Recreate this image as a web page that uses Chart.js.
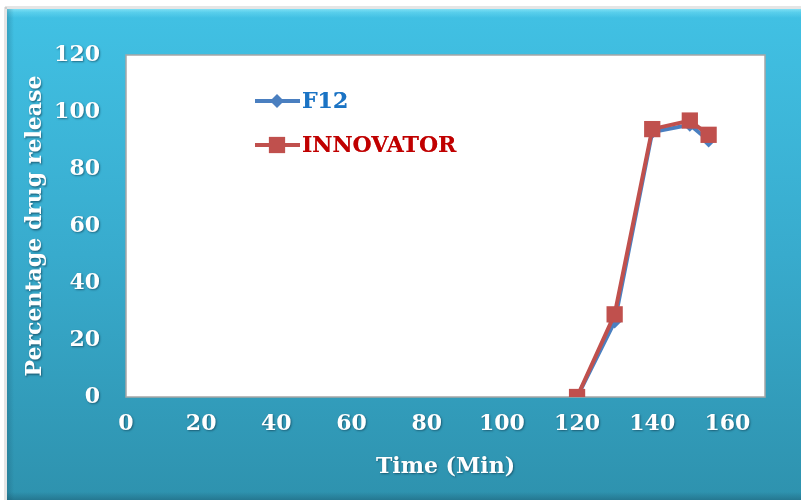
<!DOCTYPE html>
<html>
<head>
<meta charset="utf-8">
<script src="https://cdn.jsdelivr.net/npm/chart.js@4/dist/chart.umd.min.js"></script>
<style>
  html, body { margin: 0; padding: 0; background: #ffffff; }
  #wrap { width: 801px; height: 500px; }
</style>
</head>
<body>
<div id="wrap"><canvas id="c" width="801" height="500"></canvas></div>
<script>
// Dissolution profile: time points (min) and % drug released
const timePoints = [120, 130, 140, 150, 155];
const f12Release = [0, 26.5, 93, 95.5, 90];
const innovatorRelease = [0, 29, 94, 97, 92];
const seriesNames = ['F12', 'INNOVATOR'];
const xTickValues = [0, 20, 40, 60, 80, 100, 120, 140, 160];
const yTickValues = [0, 20, 40, 60, 80, 100, 120];

const FONT = '"DejaVu Serif", "Liberation Serif", serif';

const toPoints = (xs, ys) => xs.map((x, i) => ({ x: x, y: ys[i] }));

// Panel background, white plot area, text shadow for the axis text
const backdrop = {
  id: 'backdrop',
  beforeDraw(chart) {
    const ctx = chart.ctx;
    const W = chart.width, H = chart.height;
    const a = chart.chartArea;
    ctx.save();
    ctx.fillStyle = '#ffffff';
    ctx.fillRect(0, 0, W, H);
    // soft outer shadow of the panel
    ctx.fillStyle = 'rgba(0,0,0,0.10)';
    ctx.fillRect(4, 7, 3, H);
    ctx.fillRect(5, 6, W, 3);
    const g = ctx.createLinearGradient(0, 9, 0, H);
    g.addColorStop(0, '#41c1e4');
    g.addColorStop(0.5, '#38abcd');
    g.addColorStop(1, '#2e92ae');
    ctx.fillStyle = g;
    ctx.fillRect(7, 9, W - 7, H - 9);
    // top bevel
    const tb = ctx.createLinearGradient(0, 9, 0, 18);
    tb.addColorStop(0, 'rgba(170,245,255,0.6)');
    tb.addColorStop(0.4, 'rgba(130,230,250,0.35)');
    tb.addColorStop(1, 'rgba(130,230,250,0)');
    ctx.fillStyle = tb;
    ctx.fillRect(7, 9, W - 7, 9);
    // left bevel
    const lb = ctx.createLinearGradient(7, 0, 14, 0);
    lb.addColorStop(0, 'rgba(20,70,90,0.25)');
    lb.addColorStop(1, 'rgba(20,70,90,0)');
    ctx.fillStyle = lb;
    ctx.fillRect(7, 9, 7, H - 9);
    // bottom bevel
    const bb = ctx.createLinearGradient(0, H - 8, 0, H);
    bb.addColorStop(0, 'rgba(20,70,90,0)');
    bb.addColorStop(1, 'rgba(20,70,90,0.35)');
    ctx.fillStyle = bb;
    ctx.fillRect(7, H - 8, W - 7, 8);
    // plot area
    ctx.fillStyle = '#ffffff';
    ctx.fillRect(a.left, a.top, a.right - a.left, a.bottom - a.top);
    ctx.strokeStyle = '#a6a6a6';
    ctx.lineWidth = 1.5;
    ctx.strokeRect(a.left, a.top, a.right - a.left, a.bottom - a.top);
    ctx.restore();
    ctx.shadowColor = 'rgba(15,55,75,0.6)';
    ctx.shadowOffsetX = 1;
    ctx.shadowOffsetY = 1.5;
    ctx.shadowBlur = 2;
  },
  beforeDatasetsDraw(chart) {
    const ctx = chart.ctx;
    ctx.shadowColor = 'rgba(0,0,0,0)';
    ctx.shadowOffsetX = 0;
    ctx.shadowOffsetY = 0;
    ctx.shadowBlur = 0;
  }
};

// Legend placed inside the plot area: line with marker, then bold label
const innerLegend = {
  id: 'innerLegend',
  afterDraw(chart) {
    const ctx = chart.ctx;
    const rows = [
      { y: 101, color: '#1a73c4' },
      { y: 145, color: '#c00000' }
    ];
    chart.data.datasets.forEach((ds, i) => {
      const r = rows[i];
      ctx.save();
      ctx.strokeStyle = ds.borderColor;
      ctx.lineWidth = 4;
      ctx.beginPath();
      ctx.moveTo(255, r.y);
      ctx.lineTo(300, r.y);
      ctx.stroke();
      ctx.fillStyle = ds.pointBackgroundColor;
      Chart.helpers.drawPoint(ctx, {
        pointStyle: ds.pointStyle,
        radius: ds.pointRadius,
        rotation: 0,
        borderWidth: 0
      }, 277, r.y);
      ctx.font = 'bold 22px ' + FONT;
      ctx.textBaseline = 'middle';
      ctx.textAlign = 'left';
      ctx.shadowColor = 'rgba(255,255,255,0.95)';
      ctx.shadowBlur = 4;
      ctx.fillStyle = r.color;
      ctx.fillText(ds.label, 302, r.y + 1);
      ctx.fillText(ds.label, 302, r.y + 1);
      ctx.restore();
    });
  }
};

new Chart(document.getElementById('c'), {
  type: 'line',
  data: {
    datasets: [
      {
        label: seriesNames[0],
        data: toPoints(timePoints, f12Release),
        order: 1,
        borderColor: '#4a7fc0',
        backgroundColor: '#4a7fc0',
        pointBackgroundColor: '#4a7fc0',
        pointBorderColor: '#4a7fc0',
        borderWidth: 4,
        pointStyle: 'rectRot',
        pointRadius: 7,
        pointBorderWidth: 0,
        tension: 0
      },
      {
        label: seriesNames[1],
        data: toPoints(timePoints, innovatorRelease),
        order: 0,
        borderColor: '#c0504d',
        backgroundColor: '#c0504d',
        pointBackgroundColor: '#c0504d',
        pointBorderColor: '#c0504d',
        borderWidth: 4,
        pointStyle: 'rect',
        pointRadius: 11.5,
        pointBorderWidth: 0,
        tension: 0
      }
    ]
  },
  options: {
    responsive: false,
    animation: false,
    devicePixelRatio: 1,
    layout: { padding: { left: 7, top: 55, right: 36, bottom: 0 } },
    plugins: {
      legend: { display: false },
      tooltip: { enabled: false }
    },
    scales: {
      x: {
        type: 'linear',
        min: 0,
        max: 170,
        grid: { display: false, drawTicks: false, tickLength: 0 },
        border: { display: false },
        afterBuildTicks(scale) {
          scale.ticks = xTickValues.map(v => ({ value: v }));
        },
        afterFit(scale) { scale.height = 103; },
        ticks: {
          color: '#ffffff',
          padding: 14,
          font: { family: FONT, size: 22, weight: 'bold' },
          maxRotation: 0,
          autoSkip: false
        },
        title: {
          display: true,
          text: 'Time (Min)',
          color: '#ffffff',
          font: { family: FONT, size: 22, weight: 'bold' },
          padding: { top: 0, bottom: 20 }
        }
      },
      y: {
        type: 'linear',
        min: 0,
        max: 120,
        grid: { display: false, drawTicks: false, tickLength: 0 },
        border: { display: false },
        afterBuildTicks(scale) {
          scale.ticks = yTickValues.map(v => ({ value: v }));
        },
        afterFit(scale) { scale.width = 119; },
        ticks: {
          color: '#ffffff',
          padding: 26,
          font: { family: FONT, size: 22, weight: 'bold' }
        },
        title: {
          display: true,
          text: 'Percentage drug release',
          color: '#ffffff',
          font: { family: FONT, size: 22, weight: 'bold' },
          padding: { top: 15, bottom: 0 }
        }
      }
    }
  },
  plugins: [backdrop, innerLegend]
});
</script>
</body>
</html>
